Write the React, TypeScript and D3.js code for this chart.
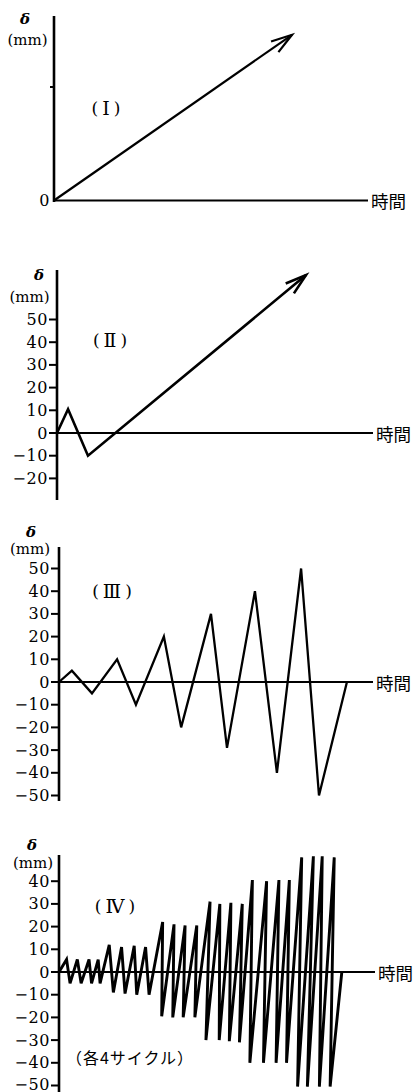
import React, { useRef, useEffect } from 'react';
import * as d3 from 'd3';

// displacement (mm) vs time (arbitrary 0..100 along the time axis)
const p1Time = [0, 75.8];
const p1Disp = [0, 73];

const p2Time = [0, 3.5, 9.8, 78.8];
const p2Disp = [0, 10.5, -10, 69.6];

const p3Time = [0, 4.1, 10.5, 18.5, 24.5, 33.4, 38.9, 48.4, 53.5, 62.4, 69.4, 77.1, 82.8, 91.7];
const p3Disp = [0, 5, -5, 10, -10, 20, -20, 30, -29, 40, -40, 50, -50, 0];

// 4 cycles at each amplitude: 5, 10, 20, 30, 40, 50
const p4Time = [
    0,
    2.4, 3.5, 5.8, 7.0, 9.5, 10.3, 12.4, 13.0,
    15.9, 17.2, 19.8, 20.9, 23.8, 24.6, 27.4, 28.5,
    32.8, 32.5, 36.4, 36.0, 39.9, 39.3, 43.6, 43.0,
    47.8, 46.5, 50.9, 50.7, 54.4, 53.9, 58.0, 57.1,
    61.2, 60.4, 65.7, 64.7, 69.6, 68.7, 72.9, 72.0,
    76.8, 75.5, 80.5, 78.6, 83.3, 82.4, 87.1, 85.8,
    89.5
];
const p4Disp = [
    0,
    5.5, -5, 5.5, -5, 5.5, -5, 5.5, -5,
    12, -9, 11, -9.5, 11.5, -10, 11, -10,
    22, -19.5, 21, -20, 20.5, -20, 20.5, -20,
    31, -30, 30, -30, 30.5, -30.5, 30, -31,
    40.5, -40, 40, -40, 40.5, -40, 40.5, -40,
    50.5, -50.5, 51, -50.5, 51, -50.5, 50.5, -50.5,
    0
];

const p1Ticks = [50];
const p2Ticks = [50, 40, 30, 20, 10, 0, -10, -20];
const p3Ticks = [50, 40, 30, 20, 10, 0, -10, -20, -30, -40, -50];
const p4Ticks = [40, 30, 20, 10, 0, -10, -20, -30, -40, -50];

const romanLabels = ['\u2160', '\u2161', '\u2162', '\u2163'];
const yName = 'δ';
const yUnit = '(mm)';
const xName = '時間';
const cycleNote = '（各4サイクル）';

const W = 413, H = 1092;
const PX_PER_MM = 2.27;
const SERIF = '"DejaVu Serif", "Liberation Serif", serif';
const CJK = '"Noto Sans CJK JP", sans-serif';

const panels = [
    { time: p1Time, disp: p1Disp, ticks: p1Ticks, labelTicks: false, arrow: true,
      x0: 54, x1: 368, zero: 200.5, top: 16, bottom: 202, tickLen: 4, lw: 2.2,
      roman: [106, 108], delta: [25, 19], mm: [27.5, 40] },
    { time: p2Time, disp: p2Disp, ticks: p2Ticks, labelTicks: true, arrow: true,
      x0: 57, x1: 373, zero: 433, top: 270, bottom: 500, tickLen: 8, lw: 2.6,
      roman: [110, 340], delta: [39, 275], mm: [29.5, 296.5] },
    { time: p3Time, disp: p3Disp, ticks: p3Ticks, labelTicks: true, arrow: false,
      x0: 59, x1: 373, zero: 682, top: 547, bottom: 801, tickLen: 8, lw: 2.3,
      roman: [112, 591], delta: [31, 532], mm: [30, 549] },
    { time: p4Time, disp: p4Disp, ticks: p4Ticks, labelTicks: true, arrow: false,
      x0: 59, x1: 375, zero: 972, top: 855, bottom: 1092, tickLen: 8, lw: 2.9,
      roman: [115, 906], delta: [32, 845], mm: [33, 863] },
];

export default function App() {
    const svg_ref = useRef<SVGSVGElement>(null);
    useEffect(() => updateAndDraw(svg_ref.current), []);
    return (
        <svg ref={svg_ref} width={W} height={H}
            style={{ position: 'absolute', left: 0, top: 0, background: '#fff' }}></svg>
    );
}

function fmt(v: number) {
    return v < 0 ? '\u2212' + Math.abs(v) : String(v);
}

function updateAndDraw(el: SVGSVGElement | null) {
    if (!el) return;
    const svg = d3.select(el);
    svg.selectAll('*').remove();
    svg.append('rect').attr('width', W).attr('height', H).attr('fill', '#fff');

    panels.forEach((p, i) => {
        const x = d3.scaleLinear().domain([0, 100]).range([p.x0, p.x1]);
        const y = d3.scaleLinear().domain([0, 10]).range([p.zero, p.zero - 10 * PX_PER_MM]);
        const g = svg.append('g');

        // time axis
        g.append('line')
            .attr('x1', x(0)).attr('x2', x(100))
            .attr('y1', y(0)).attr('y2', y(0))
            .attr('stroke', '#000').attr('stroke-width', 2.2);

        // displacement axis
        g.append('line')
            .attr('x1', x(0)).attr('x2', x(0))
            .attr('y1', p.top).attr('y2', p.bottom)
            .attr('stroke', '#000').attr('stroke-width', 2.6);

        g.selectAll('.tick')
            .data(p.ticks)
            .join('line')
            .attr('x1', x(0) - p.tickLen).attr('x2', x(0))
            .attr('y1', d => y(d)).attr('y2', d => y(d))
            .attr('stroke', '#000').attr('stroke-width', 2);

        const labels = p.labelTicks ? p.ticks : [0];
        g.selectAll('.lbl')
            .data(labels)
            .join('text')
            .attr('x', x(0) - (p.labelTicks ? p.tickLen + 1 : 4))
            .attr('y', d => y(d) - (i === 3 && d === -50 ? 1.5 : 0))
            .attr('text-anchor', 'end')
            .attr('dominant-baseline', 'central')
            .style('font-family', SERIF)
            .style('font-size', '16px')
            .style('letter-spacing', '0.6px')
            .text(d => fmt(d));

        g.append('text')
            .attr('x', p.delta[0]).attr('y', p.delta[1])
            .attr('text-anchor', 'middle').attr('dominant-baseline', 'central')
            .style('font-family', SERIF).style('font-style', 'italic').style('font-weight', 'bold')
            .style('font-size', '15px')
            .text(yName);
        g.append('text')
            .attr('x', p.mm[0]).attr('y', p.mm[1])
            .attr('text-anchor', 'middle').attr('dominant-baseline', 'central')
            .style('font-family', SERIF).style('font-size', '15px')
            .text(yUnit);

        g.append('text')
            .attr('x', x(100) + 3).attr('y', y(0))
            .attr('dominant-baseline', 'central')
            .style('font-family', CJK).style('font-size', '17.5px')
            .text(xName);

        // panel number, e.g. ( Ⅱ )
        const rl = g.append('text')
            .attr('x', p.roman[0]).attr('y', p.roman[1])
            .attr('text-anchor', 'middle').attr('dominant-baseline', 'central')
            .style('font-family', SERIF + ', ' + CJK).style('font-size', '17px');
        rl.append('tspan').text('(');
        rl.append('tspan').attr('dx', 4).style('font-size', '19px').text(romanLabels[i]);
        rl.append('tspan').attr('dx', 4).text(')');

        const line = d3.line<number>()
            .x((d, j) => x(p.time[j]))
            .y(d => y(d));

        g.append('path')
            .datum(p.disp)
            .attr('d', line)
            .attr('fill', 'none')
            .attr('stroke', '#000')
            .attr('stroke-width', p.lw);

        if (p.arrow) {
            const n = p.time.length;
            const tx = x(p.time[n - 1]), ty = y(p.disp[n - 1]);
            const ang = Math.atan2(ty - y(p.disp[n - 2]), tx - x(p.time[n - 2]));
            const len = 22, spread = 17 * Math.PI / 180;
            const barbs = [ang + Math.PI - spread, ang + Math.PI + spread].map(a => [tx + len * Math.cos(a), ty + len * Math.sin(a)]);
            g.append('path')
                .attr('d', `M${barbs[0][0]},${barbs[0][1]}L${tx},${ty}L${barbs[1][0]},${barbs[1][1]}`)
                .attr('fill', 'none')
                .attr('stroke', '#000')
                .attr('stroke-width', p.lw);
        }
    });

    svg.append('text')
        .attr('x', 130).attr('y', 1057)
        .attr('text-anchor', 'middle').attr('dominant-baseline', 'central')
        .style('font-family', CJK).style('font-size', '16px').style('letter-spacing', '1px')
        .text(cycleNote);
}
